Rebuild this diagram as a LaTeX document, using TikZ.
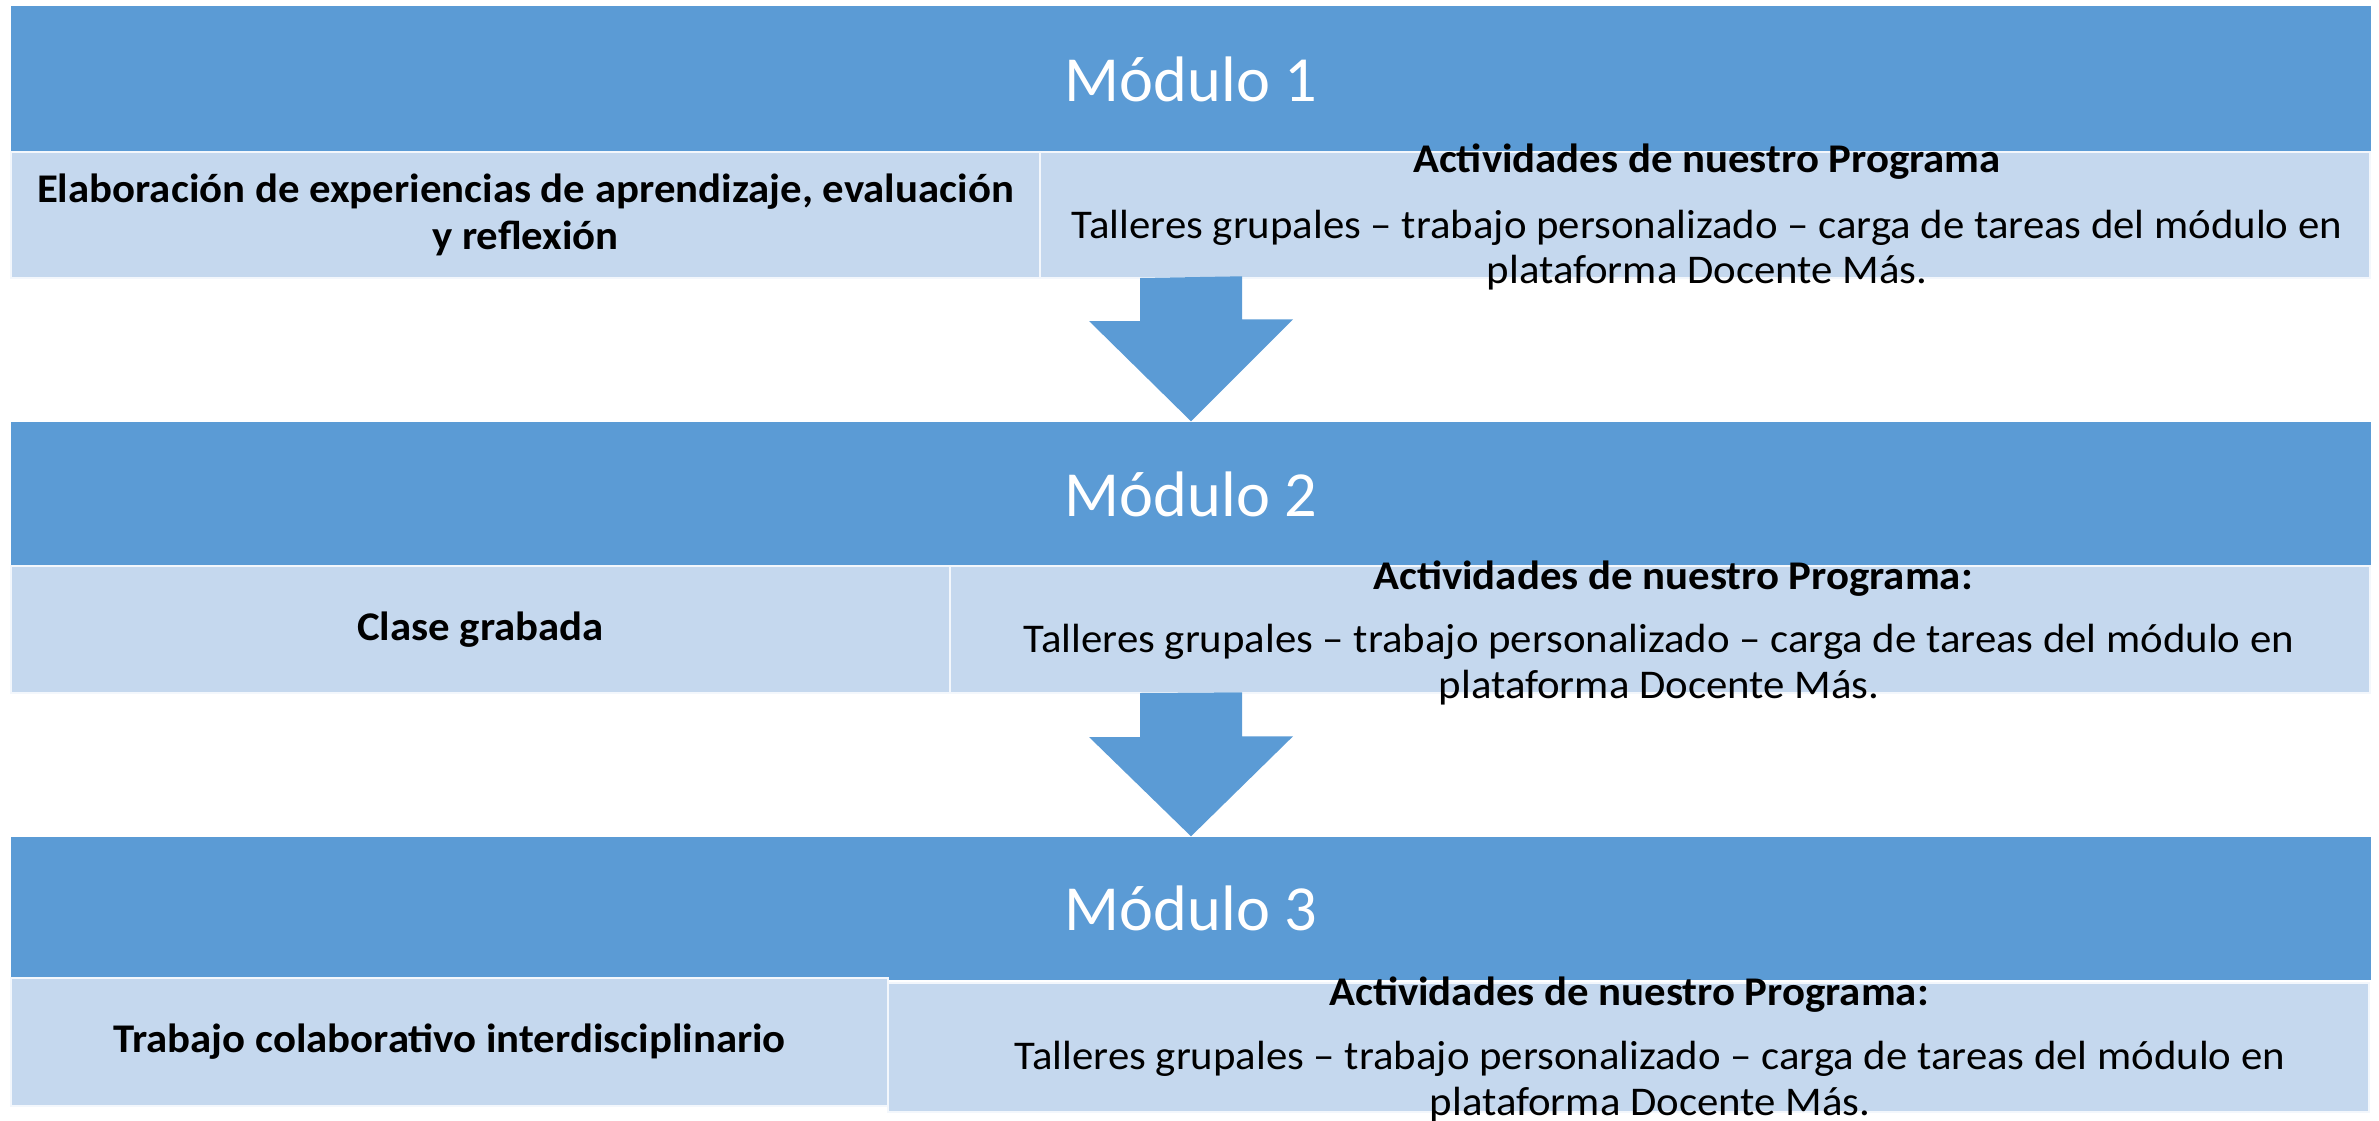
\documentclass[tikz,border=0pt]{standalone}
\usepackage{fontspec}
\setmainfont{Carlito}[FakeStretch=1.05]
\newfontfamily\titulo{Carlito}
\definecolor{azul}{HTML}{5B9BD5}
\definecolor{celeste}{HTML}{C5D8EE}
\tikzset{
    modulo/.style={fill=azul, text=white, minimum width=23.6cm, inner sep=0pt,
        font=\titulo\fontsize{18.3}{22}\selectfont},
    celda/.style={fill=celeste, draw=white!80!celeste, line width=0.6pt, inner sep=0pt, align=center},
    tema/.style={font=\bfseries\fontsize{11.6}{13.4}\selectfont},
    texto/.style={align=center, inner sep=0pt, font=\fontsize{11.6}{13}\selectfont},
    flecha/.style={fill=azul}
}

\begin{document}
\begin{tikzpicture}
        \useasboundingbox (0,0) rectangle (23.79,-11.2);
        % Modulo 1
        \node[modulo, minimum height=1.46cm] (mod1) at (11.91,-0.79) {Módulo 1};
        \node[celda, tema, minimum width=10.29cm, minimum height=1.26cm] (tema1) at (5.255,-2.15) {%
            Elaboración de experiencias de aprendizaje, evaluación\\ y reflexión%
        };
        \node[celda, minimum width=13.3cm, minimum height=1.26cm] (act1) at (17.05,-2.15) {};
        \node[texto] (txt1) at (17.07,-2.17) {%
            \textbf{Actividades de nuestro Programa}\\[5.8pt]%
            Talleres grupales – trabajo personalizado – carga de tareas del módulo en\\%
            plataforma Docente Más.%
        };
        % Modulo 2
        \node[modulo, minimum height=1.44cm] (mod2) at (11.91,-4.94) {Módulo 2};
        \node[celda, tema, minimum width=9.39cm, minimum height=1.27cm] (tema2) at (4.805,-6.295) {%
            Clase grabada%
        };
        \node[celda, minimum width=14.2cm, minimum height=1.27cm] (act2) at (16.6,-6.295) {};
        \node[texto] (txt2) at (16.59,-6.33) {%
            \hspace*{0.28cm}\textbf{Actividades de nuestro Programa:}\\[4.8pt]%
            Talleres grupales – trabajo personalizado – carga de tareas del módulo en\\%
            plataforma Docente Más.%
        };
        % Modulo 3
        \node[modulo, minimum height=1.43cm] (mod3) at (11.91,-9.085) {Módulo 3};
        \node[celda, tema, minimum width=8.77cm, minimum height=1.28cm] (tema3) at (4.495,-10.42) {%
            Trabajo colaborativo interdisciplinario%
        };
        \node[celda, minimum width=14.81cm, minimum height=1.29cm] (act3) at (16.285,-10.475) {};
        \node[texto] (txt3) at (16.5,-10.49) {%
            \textbf{Actividades de nuestro Programa:}\hspace*{0.42cm}\\[5.3pt]%
            Talleres grupales – trabajo personalizado – carga de tareas del módulo en\\%
            plataforma Docente Más.%
        };
        % flechas
        \coordinate (f1) at (11.91,-2.78);
        \coordinate (f2) at (11.91,-6.93);
        \fill[flecha] (f1) ++(-0.51,0) -- ++(0,-0.43) -- ++(-0.51,0) -- (f1 |- mod2.north)
            -- ++(1.02,1.02) -- ++(-0.51,0) -- ++(0,0.43) -- cycle;
        \fill[flecha] (f2) ++(-0.51,0) -- ++(0,-0.44) -- ++(-0.51,0) -- (f2 |- mod3.north)
            -- ++(1.02,1.0) -- ++(-0.51,0) -- ++(0,0.44) -- cycle;
    \end{tikzpicture}
\end{document}
